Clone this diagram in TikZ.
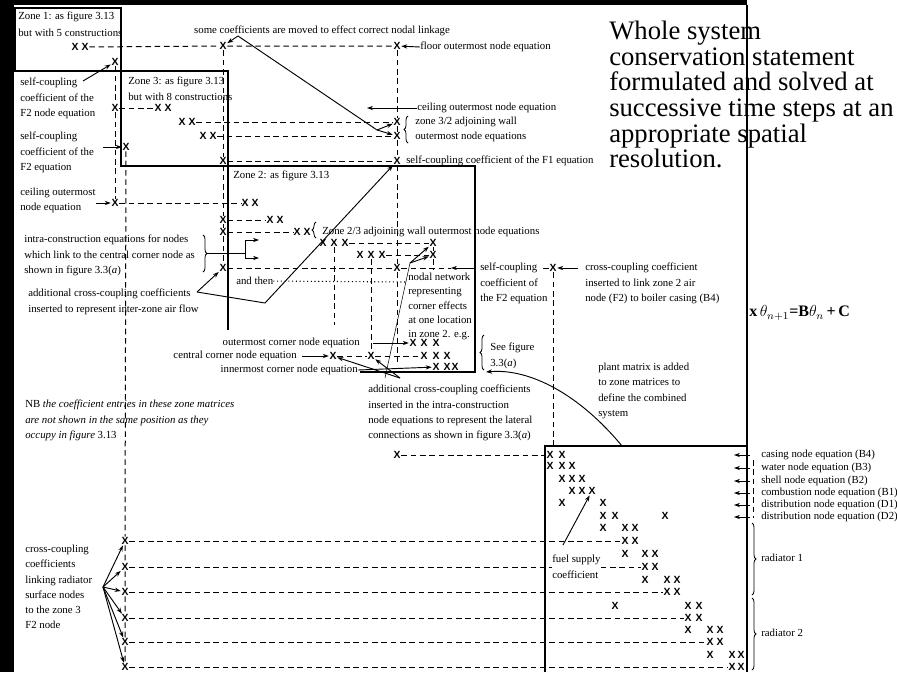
\documentclass[tikz,border=0pt]{standalone}
\usepackage{fontspec}
\setmainfont{Liberation Serif}
\setsansfont{Liberation Sans}
\usetikzlibrary{arrows.meta, decorations.pathreplacing}

\begin{document}
\begin{tikzpicture}[x=0.75pt, y=-0.75pt,
  lbl/.style={font=\rmfamily\fontsize{8.1}{11.4}\selectfont, align=left, inner sep=0pt, anchor=north west},
  xm/.style={font=\sffamily\fontsize{7.8}{8}\selectfont, inner sep=0.4pt},
  dsh/.style={dash pattern=on 4.2pt off 2.8pt, line width=0.75pt},
  arr/.style={-{Stealth[length=4.5pt, width=3.2pt]}, line width=0.7pt},
  brc/.style={decorate, decoration={brace, amplitude=3pt}, line width=0.6pt},
  frame/.style={line width=0.8pt}]
  \useasboundingbox (0,0) rectangle (897,672);
  % dark scan edges
  \fill (0,0) rectangle (14,672);
  \fill (0,0) rectangle (747,5);

  % zone and plant frames
  \draw[frame] (15,8) rectangle (121,71);
  \draw[frame] (121,71) rectangle (228,166);
  \draw[frame] (228,330) -- (228,166) -- (475,166) -- (475,372) -- (360,372);
  \draw[frame] (545,672) -- (545,446) -- (747,446);
  \draw[frame] (747,5) -- (747,672);

  % coefficient marks
  \foreach \n/\x/\y in {a1/75/47, a2/85/47, f1/223/46, f2/397/46, s1/115/62,
      b1/115/108, b2/158/108, b3/168/108, c1/182/122, c2/192/122, c3/397/122,
      d1/203/136, d2/213/136, d3/397/136, s2/126/147, e1/223/161, e2/397/161,
      g1/115/203, g2/245/203, g3/255/203, h1/223/220, h2/270/220, h3/280/220,
      i1/223/232, i2/297/232, i3/307/232, j1/223/268, j2/397/268,
      k1/323/243, k2/334/243, k3/345/243, k4/433/243,
      l1/360/255, l2/371/255, l3/382/255, l4/433/255,
      o1/413/343, o2/424/343, o3/436/343,
      m1/333/356, m2/371/356, m3/424/356, m4/436/356, m5/447/356,
      n1/436/367, n2/447/367, n3/455/367, p1/553/268, q0/397/455}
    \node[xm] (\n) at (\x,\y) {\textbf{X}};
  \foreach \y [count=\i] in {541,567,592,618,642,667}
    \node[xm] (r\i) at (125,\y) {\textbf{X}};
  % plant matrix
  \foreach \x/\y [count=\i] in {550/455, 562/455, 550/466, 562/466, 572/466,
      562/479, 572/479, 582/479, 572/491, 582/491, 592/491, 562/503, 603/503,
      603/516, 615/516, 665/516, 603/528, 625/528, 635/528, 625/541, 635/541,
      625/554, 645/554, 655/554, 645/567, 655/567, 645/580, 667/580, 677/580,
      667/592, 677/592, 615/606, 688/606, 699/606, 688/618, 699/618,
      688/630, 710/630, 720/630, 710/642, 720/642, 710/655, 732/655, 741/655,
      732/667, 741/667}
    \node[xm] (pm\i) at (\x,\y) {\textbf{X}};

  % labels
  \node[lbl, font=\rmfamily\fontsize{8.1}{12.6}\selectfont] (z1) at (18,12) {Zone 1: as figure 3.13\\but with 5 constructions};
  \node[lbl] (z3) at (128,77) {Zone 3: as figure 3.13\\but with 8 constructions};
  \node[lbl] (z2) at (233,171) {Zone 2: as figure 3.13};
  \node[lbl] (sf2n) at (20,78) {self-coupling\\coefficient of the\\F2 node equation};
  \node[lbl] (sf2) at (20,132) {self-coupling\\coefficient of the\\F2 equation};
  \node[lbl] (ceil) at (20,188) {ceiling outermost\\node equation};
  \node[lbl] (intra) at (24,235) {intra-construction equations for nodes\\which link to the central corner node as\\shown in figure 3.3(\textit{a})};
  \node[lbl] (air) at (28,289) {additional cross-coupling coefficients\\inserted to represent inter-zone air flow};
  \node[lbl] (andthen) at (236,277) {and then};
  \node[lbl] (nb) at (25,400) {NB \textit{the coefficient entries in these zone matrices}\\\textit{are not shown in the same position as they}\\\textit{occupy in figure} 3.13};
  \node[lbl, anchor=center] (moved) at (322,31) {some coefficients are moved to effect correct nodal linkage};
  \node[lbl, anchor=west] (floor) at (420,47) {floor outermost node equation};
  \node[lbl, anchor=west] (ceilr) at (417,108) {ceiling outermost node equation};
  \node[lbl] (w32) at (415,117) {zone 3/2 adjoining wall\\outermost node equations};
  \node[lbl, anchor=west] (sf1) at (406,161) {self-coupling coefficient of the F1 equation};
  \node[lbl, anchor=west] (w23) at (322,232) {Zone 2/3 adjoining wall outermost node equations};
  \node[lbl] (sf2r) at (480,263) {self-coupling\\coefficient of\\the F2 equation};
  \node[lbl] (b4) at (585,263) {cross-coupling coefficient\\inserted to link zone 2 air\\node (F2) to boiler casing (B4)};
  \node[lbl, font=\rmfamily\fontsize{8.1}{10.6}\selectfont] (net) at (408,273) {nodal network\\representing\\corner effects\\at one location\\in zone 2. e.g.};
  \node[lbl, anchor=east] (outer) at (360,343) {outermost corner node equation};
  \node[lbl, anchor=east] (central) at (297,356) {central corner node equation};
  \node[lbl, anchor=east] (inner) at (358,370) {innermost corner node equation};
  \node[lbl] (see) at (490,343) {See figure\\3.3(\textit{a})};
  \node[lbl] (lat) at (368,385) {additional cross-coupling coefficients\\inserted in the intra-construction\\node equations to represent the lateral\\connections as shown in figure 3.3(\textit{a})};
  \node[lbl] (plant) at (598,363) {plant matrix is added\\to zone matrices to\\define the combined\\system};
  \node[lbl] (fuel) at (552,555) {fuel supply\\coefficient};
  \node[lbl] (rad) at (25,545) {cross-coupling\\coefficients\\linking radiator\\surface nodes\\to the zone 3\\F2 node};
  \foreach \y/\t [count=\i] in {455/casing node equation (B4), 468/water node equation (B3),
      481/shell node equation (B2), 493/combustion node equation (B1),
      505/distribution node equation (D1), 517/distribution node equation (D2)}{
    \node[lbl, anchor=west] (eq\i) at (761,\y) {\t};
    \draw[arr] (eq\i.west) ++(-11,0) -- ++(-16,0);
  }
  \node[lbl, anchor=west] (rad1) at (761,558) {radiator 1};
  \node[lbl, anchor=west] (rad2) at (761,633) {radiator 2};
  \node[lbl, font=\rmfamily\fontsize{20}{19.2}\selectfont] (whole) at (609,21) {Whole system\\conservation statement\\formulated and solved at\\successive time steps at an\\appropriate spatial\\resolution.};
  \node[anchor=west, inner sep=0pt, font=\rmfamily\fontsize{12}{14}\selectfont] (eqn) at (749,313) {\textbf{x}\,$\theta_{n+1}$\textbf{=B}$\theta_n$\,\textbf{+\,C}};

  % dashed coupling lines
  \coordinate (sfa) at (451,268);
  \draw[dsh] (a2) -- (f1) -- (f2);
  \draw[dsh] (b1) -- (b2);
  \draw[dsh] (c2) -- (c3);
  \draw[dsh] (d2) -- (d3);
  \draw[dsh] (e1) -- (e2);
  \draw[dsh] (g1) -- (g2);
  \draw[dsh] (h1) -- (h2);
  \draw[dsh] (i1) -- (i2);
  \draw[dsh] (j1) -- (j2) -- (sfa);
  \draw[dsh] (k3) -- (k4);
  \draw[dsh] (l3) -- (l4);
  \draw[dsh] (m1) -- (m2) -- (m3);
  \draw[dsh] (s1) -- (b1) -- (g1);
  \draw[dsh] (s2) -- (r1) -- (r2) -- (r3) -- (r4) -- (r5) -- (r6);
  \draw[dsh] (f1) -- (e1) -- (h1) -- (i1) -- (j1);
  \draw[dsh] (f2) -- (c3) -- (d3) -- (e2) -- (j2) -- (397,362);
  \draw[dsh] (p1) -- (553,446);
  \draw[dsh] (k2) -- (334,325);
  \draw[dsh] (l2) -- (m2);
  \draw[dsh] (k4) -- (l4) -- (433,270);
  \draw[dsh] (p1) -- ++(-13,0);
  \draw[dsh] (q0) -- (pm1);
  \draw[dsh] (r1) -- (pm20);
  \draw[dsh] (r2) -- (fuel.west |- r2);
  \draw[dsh] (fuel.east |- r2) -- (pm25);
  \draw[dsh] (r3) -- (pm30);
  \draw[dsh] (r4) -- (pm35);
  \draw[dsh] (r5) -- (pm40);
  \draw[dsh] (r6) -- (pm45);
  \draw[dsh] (753,460) -- (753,518);
  \draw[dotted, line width=0.8pt] (andthen.east) -- (406,282);

  % annotation arrows
  \coordinate (sc) at (238,36);
  \coordinate (scj) at (377,130);
  \coordinate (iza) at (197,292);
  \coordinate (izb) at (265,303);
  \coordinate (nna) at (385,378);
  \coordinate (nnb) at (410,263);
  \coordinate (nnc) at (400,378);
  \coordinate (fan) at (103,587);
  \draw[arr] (sc) -- (f1);
  \draw[arr] (sc) -- (scj) -- (d3);
  \draw[arr] (scj) -- (c3);
  \draw[arr] (83,81) -- (s1);
  \draw[arr] (103,147) -- (s2);
  \draw[arr] (ceil.east |- g1) -- (g1);
  \draw[arr] (floor.west) -- (f2);
  \draw[arr] (ceilr.west) -- ++(-50,0);
  \draw (207,253) -- (245,253);
  \draw (245,240) -- (245,258);
  \draw[arr] (245,240) -- (259,240);
  \draw[arr] (245,258) -- (259,258);
  \draw[arr] (iza) -- (j1);
  \draw[arr] (iza) -- (izb) -- (e2);
  \draw (nna) -- (nnb);
  \draw[arr] (nnb) -- (k4);
  \draw[arr] (nnb) -- (l4);
  \draw[arr] (nnc) -- (m1);
  \draw[arr] (nnc) -- (m2);
  \draw[arr] (outer.east) ++(13,0) -- (o1);
  \draw[arr] (central.east) ++(5,0) -- (m1);
  \draw[arr] (inner.east) -- (n1);
  \draw[arr] ([xshift=-4.5pt]sf2r.west |- j2) -- (sfa);
  \draw[arr] ([xshift=-5pt]b4.west |- p1) -- (p1);
  \draw[arr] (622,446) .. controls (580,395) and (530,368) .. (486,372);
  \draw[arr] (fuel.north west) ++(11,-10) -- (pm11);
  \foreach \i in {1,...,6}
    \draw[arr] (fan) -- (r\i);

  % braces
  \draw[brc] (408,143) -- (408,116);
  \draw[brc] (203,235) -- (203,272);
  \draw[brc] (316,238) -- (316,222);
  \draw[brc] (484,370) -- (484,335);
  \draw[brc] (752,523) -- (752,595);
  \draw[brc] (752,598) -- (752,670);
\end{tikzpicture}
\end{document}
